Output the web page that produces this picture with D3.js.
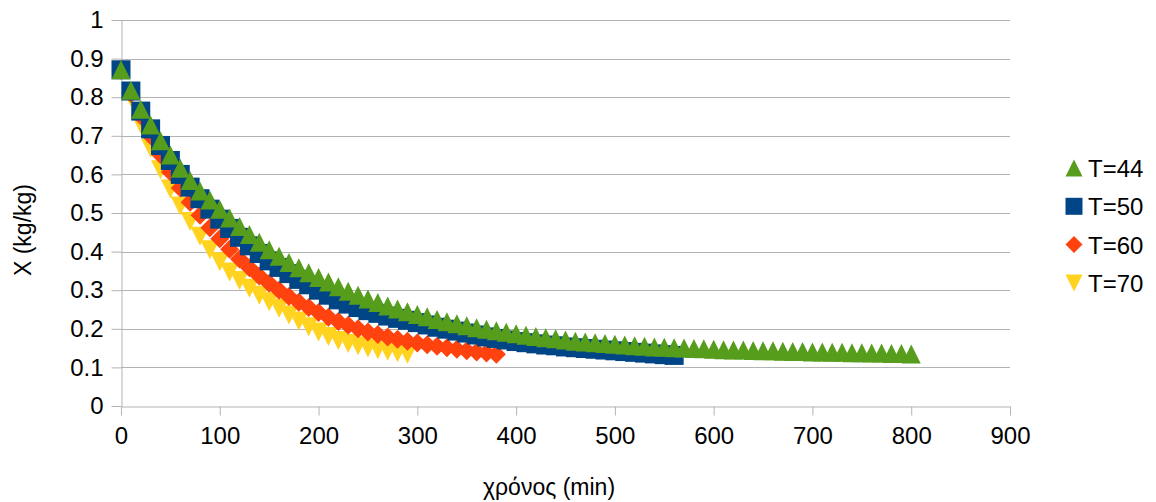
<!DOCTYPE html>
<html>
<head>
<meta charset="utf-8">
<script src="https://cdn.jsdelivr.net/npm/d3@7"></script>
<style>
  html, body { margin: 0; padding: 0; background: #ffffff; }
  svg { display: block; }
  text { font-family: "Liberation Sans", Arial, sans-serif; fill: #000; }
</style>
</head>
<body>
<svg id="chart" width="1156" height="502"></svg>
<script>
// ---- data (time in min, X in kg/kg) ----
const times = [0,10,20,30,40,50,60,70,80,90,100,110,120,130,140,150,160,170,180,190,200,
  210,220,230,240,250,260,270,280,290,300,310,320,330,340,350,360,370,380,390,400,
  410,420,430,440,450,460,470,480,490,500,510,520,530,540,550,560,570,580,590,600,
  610,620,630,640,650,660,670,680,690,700,710,720,730,740,750,760,770,780,790,800];

const seriesNames = ["T=44", "T=50", "T=60", "T=70"];

const valuesT44 = [0.871,0.818,0.769,0.728,0.687,0.650,0.616,0.584,0.557,0.534,0.510,
  0.487,0.465,0.444,0.424,0.405,0.388,0.372,0.358,0.345,0.333,
  0.321,0.309,0.297,0.287,0.277,0.268,0.259,0.251,0.244,0.237,
  0.231,0.224,0.218,0.213,0.208,0.203,0.199,0.195,0.191,0.187,
  0.183,0.180,0.177,0.174,0.171,0.168,0.166,0.164,0.162,0.160,
  0.158,0.156,0.155,0.153,0.152,0.151,0.150,0.149,0.148,0.147,
  0.146,0.145,0.145,0.144,0.143,0.143,0.142,0.141,0.141,0.140,
  0.140,0.139,0.139,0.138,0.138,0.137,0.137,0.136,0.136,0.135];

const valuesT50 = [0.871,0.816,0.764,0.718,0.675,0.636,0.600,0.567,0.537,0.510,0.484,
  0.460,0.437,0.415,0.395,0.376,0.359,0.343,0.328,0.314,0.300,
  0.287,0.275,0.264,0.255,0.247,0.240,0.233,0.227,0.222,0.216,
  0.210,0.204,0.199,0.194,0.189,0.184,0.179,0.175,0.171,0.167,
  0.164,0.161,0.158,0.156,0.153,0.151,0.149,0.147,0.145,0.143,
  0.141,0.139,0.137,0.135,0.133,0.131];

const valuesT60 = [0.870,0.810,0.752,0.700,0.651,0.606,0.565,0.528,0.494,0.462,0.433,
  0.406,0.381,0.358,0.337,0.318,0.300,0.284,0.269,0.255,0.242,
  0.230,0.219,0.209,0.200,0.192,0.185,0.179,0.173,0.168,0.163,
  0.159,0.155,0.151,0.147,0.143,0.140,0.137,0.134];

const valuesT70 = [0.870,0.800,0.730,0.668,0.612,0.562,0.518,0.478,0.440,0.405,0.374,
  0.347,0.325,0.305,0.287,0.270,0.253,0.236,0.220,0.205,0.192,
  0.180,0.170,0.162,0.156,0.150,0.146,0.142,0.138,0.134];

const xTicks = [0,100,200,300,400,500,600,700,800,900];
const yTicks = [0,0.1,0.2,0.3,0.4,0.5,0.6,0.7,0.8,0.9,1];
const xTitle = "χρόνος (min)";
const yTitle = "X (kg/kg)";

// ---- styling ----
const colors = {"T=44": "#579d1c", "T=50": "#004586", "T=60": "#ff420e", "T=70": "#ffd320"};
const shapes = {"T=44": "up", "T=50": "square", "T=60": "diamond", "T=70": "down"};
const valuesBy = {"T=44": valuesT44, "T=50": valuesT50, "T=60": valuesT60, "T=70": valuesT70};

const svg = d3.select("#chart");
const plot = {left: 121, right: 1010, top: 20, bottom: 406};

const x = d3.scaleLinear().domain([0, 900]).range([plot.left, plot.right]);
const y = d3.scaleLinear().domain([0, 1]).range([plot.bottom, plot.top]);

function markerPath(type, s) {
  const h = s / 2;
  switch (type) {
    case "up": return `M0,${-h}L${h},${h}L${-h},${h}Z`;
    case "down": return `M${-h},${-h}L${h},${-h}L0,${h}Z`;
    case "square": return `M${-h},${-h}H${h}V${h}H${-h}Z`;
    case "diamond": return `M0,${-h}L${h},0L0,${h}L${-h},0Z`;
  }
}

// gridlines
svg.append("g")
  .selectAll("line").data(yTicks.filter(d => d > 0)).join("line")
  .attr("x1", plot.left).attr("x2", plot.right)
  .attr("y1", d => Math.round(y(d)) + 0.5).attr("y2", d => Math.round(y(d)) + 0.5)
  .attr("stroke", "#b3b3b3").attr("stroke-width", 1);

// axes
const xAxis = d3.axisBottom(x).tickValues(xTicks).tickFormat(d3.format("d"))
  .tickSizeInner(9).tickSizeOuter(0).tickPadding(11);
const yAxis = d3.axisLeft(y).tickValues(yTicks).tickFormat(d => String(d))
  .tickSizeInner(10).tickSizeOuter(0).tickPadding(8);

const gx = svg.append("g").attr("transform", `translate(0,${plot.bottom + 0.5})`).call(xAxis);
const gy = svg.append("g").attr("transform", `translate(${plot.left + 0.5},0)`).call(yAxis);
[gx, gy].forEach(g => {
  g.selectAll("path.domain").attr("stroke", "#b3b3b3");
  g.selectAll(".tick line").attr("stroke", "#b3b3b3");
  g.selectAll(".tick text").attr("font-size", 24).attr("fill", "#000")
    .style("font-family", '"Liberation Sans", Arial, sans-serif');
});
gx.selectAll(".tick text").attr("dy", "0.72em");

// series, drawn so that T=44 ends on top
const drawOrder = ["T=70", "T=60", "T=50", "T=44"];
drawOrder.forEach(name => {
  const vals = valuesBy[name];
  const pts = vals.map((v, i) => ({t: times[i], v}));
  svg.append("g")
    .selectAll("path").data(pts).join("path")
    .attr("d", markerPath(shapes[name], 19))
    .attr("transform", d => `translate(${x(d.t)},${y(d.v)})`)
    .attr("fill", colors[name]);
});

// axis titles
svg.append("text").attr("x", 549).attr("y", 495)
  .attr("text-anchor", "middle").attr("font-size", 23).text(xTitle);
svg.append("text")
  .attr("transform", "translate(31,230) rotate(-90)")
  .attr("text-anchor", "middle").attr("font-size", 23).text(yTitle);

// legend
const legend = svg.append("g");
seriesNames.forEach((name, i) => {
  const cy = 168 + i * 38.3;
  legend.append("path")
    .attr("d", markerPath(shapes[name], 17))
    .attr("transform", `translate(1074,${cy})`)
    .attr("fill", colors[name]);
  legend.append("text").attr("x", 1088).attr("y", cy + 9)
    .attr("font-size", 24).text(name);
});
</script>
</body>
</html>
